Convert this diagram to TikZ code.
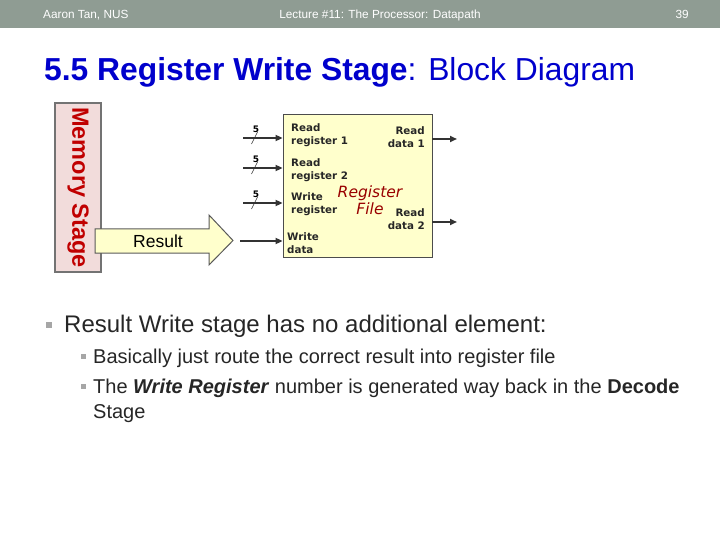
\documentclass[tikz,border=0pt]{standalone}
\usepackage{xcolor}
\usepackage{fontspec}
\setmainfont{Liberation Sans}
\newfontfamily\verd{DejaVu Sans}
\usepackage{tikz}
\usetikzlibrary{arrows.meta}

\definecolor{barcol}{HTML}{8F9C93}
\definecolor{titlecol}{HTML}{0000CC}
\definecolor{memfill}{HTML}{F2DCDB}
\definecolor{memtext}{HTML}{C00000}
\definecolor{rffill}{HTML}{FFFFCC}
\definecolor{rftext}{HTML}{990000}
\definecolor{bodytext}{HTML}{262626}
\definecolor{bulcol}{HTML}{A6A6A6}

\tikzset{
  wire/.style={line width=1.7pt, draw=black!80, -{Triangle[length=7pt,width=6pt]}},
  port/.style={font=\verd\bfseries\fontsize{10.3}{13}\selectfont, text=black!85, inner sep=0pt},
  bul/.style={fill=bulcol, draw=none},
  txt/.style={anchor=base west, inner sep=0pt, text=bodytext}
}

\begin{document}
\begin{tikzpicture}[x=1pt,y=-1pt]
\useasboundingbox (0,0) rectangle (720,540);
% header bar
\fill[barcol] (0,0) rectangle (720,28);
\node[anchor=base west, inner sep=0pt, text=white, font=\fontsize{11.8}{13}\selectfont] (hl) at (43,19) {Aaron Tan, NUS};
\node[anchor=base, inner sep=0pt, text=white, font=\fontsize{11.8}{13}\selectfont] (hc) at (380,19) {Lecture \#11: The Processor: Datapath};
\node[anchor=base east, inner sep=0pt, text=white, font=\fontsize{11.8}{13}\selectfont] (hr) at (689,19) {39};

% title
\node[anchor=base west, inner sep=0pt, text=titlecol, font=\fontsize{31.8}{36}\selectfont] (title) at (44,81) {\textbf{5.5 Register Write Stage}: Block Diagram};

% memory stage
\node[draw=black!55, line width=1.2pt, fill=memfill, minimum width=46pt, minimum height=169pt, inner sep=0pt] (mem) at (78,187.5) {};
\node[rotate=-90, text=memtext, font=\bfseries\fontsize{23.5}{26}\selectfont, inner sep=0pt] (memlbl) at (mem.center) {Memory Stage};

% result arrow
\draw[draw=black!65, line width=1pt, fill=rffill] (95,229) -- (209,229) -- (209,215) -- (233,240.5) -- (209,265) -- (209,253) -- (95,253) -- cycle;
\node[font=\fontsize{17.5}{20}\selectfont, text=black, inner sep=0pt] (reslbl) at (158,241) {Result};
\coordinate (wd) at (240,241);

% register file
\node[draw=black!70, line width=0.8pt, fill=rffill, minimum width=149pt, minimum height=143pt, inner sep=0pt] (rf) at (357.5,185.5) {};
\node[port, anchor=north west, align=left] (rr1) at (291,123) {Read\\register 1};
\node[port, anchor=north west, align=left] (rr2) at (291,158) {Read\\register 2};
\node[port, anchor=north west, align=left] (wr) at (291,192) {Write\\register};
\node[port, anchor=north west, align=left] (wdl) at (287,232) {Write\\data};
\node[port, anchor=north east, align=right] (rd1) at (425,126) {Read\\data 1};
\node[port, anchor=north east, align=right] (rd2) at (425,208) {Read\\data 2};
\node[align=center, text=rftext, font=\verd\itshape\fontsize{15.5}{17}\selectfont, inner sep=0pt] (rfl) at (370,200) {Register\\File};

% inputs
\foreach \y/\n in {138/a,168/b,203/c}{
  \coordinate (in\n) at (243,\y);
  \draw[wire] (in\n) -- (in\n -| rf.west);
  \draw[line width=0.6pt, black!80] (251.5,\y+6) -- (257.5,\y-6);
  \node[font=\verd\bfseries\fontsize{9}{10}\selectfont, inner sep=0pt] (five\n) at (256,\y-9) {5};
}
\draw[wire] (wd) -- (wd -| rf.west);

% outputs
\coordinate (out1) at (457,139);
\coordinate (out2) at (457,222);
\draw[wire] (rf.east |- out1) -- (out1);
\draw[wire] (rf.east |- out2) -- (out2);

% bullets
\fill[bul] (46,322) rectangle (52,328);
\node[txt, font=\fontsize{24}{28}\selectfont] (b1) at (64,332) {Result Write stage has no additional element:};
\fill[bul] (81,354) rectangle (86,359);
\node[txt, font=\fontsize{20}{24}\selectfont] (b2) at (93,363) {Basically just route the correct result into register file};
\fill[bul] (81,384) rectangle (86,389);
\node[txt, font=\fontsize{20}{24}\selectfont] (b3) at (93,393) {The \textbf{\textit{Write Register}} number is generated way back in the \textbf{Decode}};
\node[txt, font=\fontsize{20}{24}\selectfont] (b3b) at (93,418) {Stage};
\end{tikzpicture}
\end{document}
